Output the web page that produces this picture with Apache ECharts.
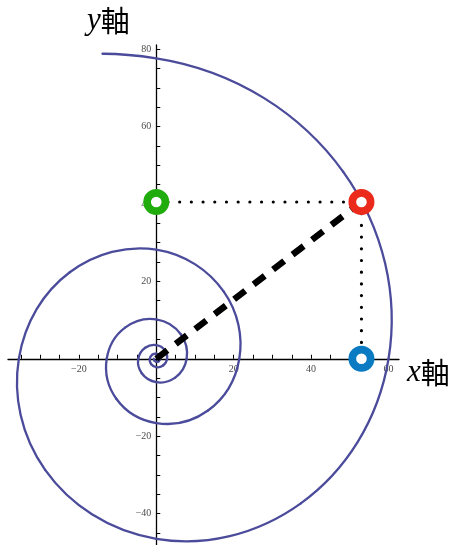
<!DOCTYPE html>
<html>
<head>
<meta charset="utf-8">
<script src="https://cdn.jsdelivr.net/npm/echarts@6/dist/echarts.min.js"></script>
<style>
html,body{margin:0;padding:0;background:#fff;}
#chart{width:454px;height:545px;}
</style>
</head>
<body>
<div id="chart"></div>
<script>
// Spiral: radius every 45 degrees (cumulative angle in degrees)
const spiralAngle  = [-180, -135, -90, -45, 0, 45, 90, 135, 180, 225, 270, 315, 360, 405, 450, 495, 540, 585, 630, 675, 720, 765, 810, 855, 900, 945, 990, 1035, 1080, 1125, 1170, 1215, 1260, 1305, 1350, 1395, 1440, 1485, 1530, 1540];
const spiralRadius = [0.61, 0.69, 0.78, 0.89, 1.01, 1.15, 1.30, 1.48, 1.68, 1.91, 2.17, 2.46, 2.8, 3.15, 3.55, 4.05, 4.65, 5.3, 6.05, 6.9, 7.85, 8.95, 10.2, 11.4, 12.8, 14.6, 16.6, 18.9, 21.45, 24.6, 28.2, 31.6, 35.5, 40.6, 46.5, 52.8, 60.0, 68.3, 77.6, 80.0];

// Marked points
const originPoint = [0, 0];
const redPoint    = [53, 40.5];
const greenPoint  = [0, 40.5];
const bluePoint   = [53, 0];

// Axis ticks and labels
const xTicks  = [-35, -30, -25, -20, -15, -10, -5, 5, 10, 15, 20, 25, 30, 35, 40, 45, 50, 55, 60];
const xLabels = [-20, 20, 40, 60];
const yTicks  = [-45, -40, -35, -30, -25, -20, -15, -10, -5, 5, 10, 15, 20, 25, 30, 35, 40, 45, 50, 55, 60, 65, 70, 75, 80];
const yLabels = [-40, -20, 20, 40, 60, 80];

const xRange = [-38.3, 62.7];
const yRange = [-48.1, 81.05];

const chart = echarts.init(document.getElementById('chart'), null, {renderer: 'canvas'});

const W = 454, H = 545;
const gridLeft = 8, gridRight = 55, gridTop = 45, gridBottom = 0;
const pxPerUnit = (W - gridLeft - gridRight) / (xRange[1] - xRange[0]);
const pxPerUnitY = (H - gridTop - gridBottom) / (yRange[1] - yRange[0]);
const cx = gridLeft + (0 - xRange[0]) * pxPerUnit;
const cy = gridTop + (yRange[1] - 0) * pxPerUnitY;

const labelFmt = v => String(v).replace('-', '\u2212');
const labelStyle = {fontFamily: 'Liberation Serif', fontSize: 10, color: '#4a4a4a'};
const hiddenAxis = {show: false, axisLine: {show: false}, axisTick: {show: false}, axisLabel: {show: false}, splitLine: {show: false}};

// Spiral sample (r, angle) -> data-space point and polar tangent, used to draw smooth segments
const N = spiralAngle.length;
const rad = a => a * Math.PI / 180;
function spiralPt(k) {
  const t = rad(spiralAngle[k]);
  return [spiralRadius[k] * Math.cos(t), spiralRadius[k] * Math.sin(t)];
}
function spiralTan(k) {
  const k0 = Math.max(0, k - 1), k1 = Math.min(N - 1, k + 1);
  const dr = (spiralRadius[k1] - spiralRadius[k0]) / (rad(spiralAngle[k1]) - rad(spiralAngle[k0]));
  const t = rad(spiralAngle[k]), r = spiralRadius[k];
  return [dr * Math.cos(t) - r * Math.sin(t), dr * Math.sin(t) + r * Math.cos(t)];
}

function renderSpiral(params, api) {
  const i = params.dataIndex;
  if (i >= N - 1) return null;
  const h = rad(spiralAngle[i + 1]) - rad(spiralAngle[i]);
  const c = (4 / 3) * Math.tan(h / 4);
  const p0 = spiralPt(i), p3 = spiralPt(i + 1);
  const t0 = spiralTan(i), t3 = spiralTan(i + 1);
  const p1 = [p0[0] + t0[0] * c, p0[1] + t0[1] * c];
  const p2 = [p3[0] - t3[0] * c, p3[1] - t3[1] * c];
  const a = api.coord(p0), b = api.coord(p1), d = api.coord(p2), e = api.coord(p3);
  return {
    type: 'bezierCurve',
    shape: {x1: a[0], y1: a[1], cpx1: b[0], cpy1: b[1], cpx2: d[0], cpy2: d[1], x2: e[0], y2: e[1]},
    style: {stroke: '#4b4b9b', lineWidth: 2.3, fill: null, lineCap: 'round'},
    silent: true
  };
}

chart.setOption({
  animation: false,
  backgroundColor: '#fff',
  grid: [
    {left: gridLeft, right: gridRight, top: gridTop, bottom: gridBottom, outerBoundsMode: 'none'},
    {left: gridLeft, right: gridRight, top: gridTop, bottom: H - cy, outerBoundsMode: 'none'},
    {left: cx, right: gridRight, top: gridTop, bottom: gridBottom, outerBoundsMode: 'none'}
  ],
  xAxis: [
    Object.assign({gridIndex: 0, type: 'value', min: xRange[0], max: xRange[1]}, hiddenAxis),
    {
      gridIndex: 1, type: 'value', min: xRange[0], max: xRange[1], position: 'bottom',
      axisLine: {show: true, onZero: false, lineStyle: {color: '#000', width: 1.3}},
      axisTick: {show: true, inside: true, length: 4, customValues: xTicks, lineStyle: {color: '#000', width: 1}},
      axisLabel: Object.assign({show: true, customValues: xLabels, formatter: labelFmt, margin: 6}, labelStyle),
      splitLine: {show: false}
    },
    Object.assign({gridIndex: 2, type: 'value', min: 0, max: 1}, hiddenAxis)
  ],
  yAxis: [
    Object.assign({gridIndex: 0, type: 'value', min: yRange[0], max: yRange[1]}, hiddenAxis),
    Object.assign({gridIndex: 1, type: 'value', min: 0, max: 1}, hiddenAxis),
    {
      gridIndex: 2, type: 'value', min: yRange[0], max: yRange[1], position: 'left',
      axisLine: {show: true, onZero: false, lineStyle: {color: '#000', width: 1.3}},
      axisTick: {show: true, inside: true, length: 4, customValues: yTicks, lineStyle: {color: '#000', width: 1}},
      axisLabel: Object.assign({show: true, customValues: yLabels, formatter: labelFmt, margin: 5}, labelStyle),
      splitLine: {show: false}
    }
  ],
  series: [
    {
      name: 'spiral', type: 'custom', coordinateSystem: 'cartesian2d', xAxisIndex: 0, yAxisIndex: 0, z: 2,
      data: spiralAngle.map((a, i) => spiralPt(i)),
      renderItem: renderSpiral, clip: false
    },
    {
      name: 'dash', type: 'line', xAxisIndex: 0, yAxisIndex: 0, data: [originPoint, redPoint], z: 3,
      showSymbol: false, symbol: 'none',
      lineStyle: {color: '#000', width: 6.5, type: [14, 10.5], cap: 'butt'}
    },
    {
      name: 'dotH', type: 'line', xAxisIndex: 0, yAxisIndex: 0, data: [greenPoint, redPoint], z: 3,
      symbol: 'none',
      lineStyle: {color: '#000', width: 3.2, type: [0, 11.7], cap: 'round'}
    },
    {
      name: 'dotV', type: 'line', xAxisIndex: 0, yAxisIndex: 0, data: [redPoint, bluePoint], z: 3,
      symbol: 'none',
      lineStyle: {color: '#000', width: 3.2, type: [0, 11.7], cap: 'round'}
    },
    {
      name: 'points', type: 'scatter', xAxisIndex: 0, yAxisIndex: 0, symbol: 'circle', symbolSize: 18.3, z: 10,
      data: [
        {value: redPoint,   itemStyle: {borderColor: '#ec2a1b'}},
        {value: greenPoint, itemStyle: {borderColor: '#21ac0d'}},
        {value: bluePoint,  itemStyle: {borderColor: '#0a7bc2'}}
      ],
      itemStyle: {color: '#fff', borderWidth: 7.7, opacity: 1}
    }
  ],
  graphic: [
    {
      type: 'text', left: 87, top: 5,
      style: {
        text: '{i|y}{c|軸}',
        rich: {
          i: {fontFamily: 'Liberation Serif', fontStyle: 'italic', fontSize: 31, fill: '#000'},
          c: {fontFamily: 'Noto Sans CJK JP', fontSize: 29, fill: '#000'}
        }
      }
    },
    {
      type: 'text', left: 407, top: 357,
      style: {
        text: '{i|x}{c|軸}',
        rich: {
          i: {fontFamily: 'Liberation Serif', fontStyle: 'italic', fontSize: 31, fill: '#000'},
          c: {fontFamily: 'Noto Sans CJK JP', fontSize: 29, fill: '#000'}
        }
      }
    }
  ]
});
</script>
</body>
</html>
